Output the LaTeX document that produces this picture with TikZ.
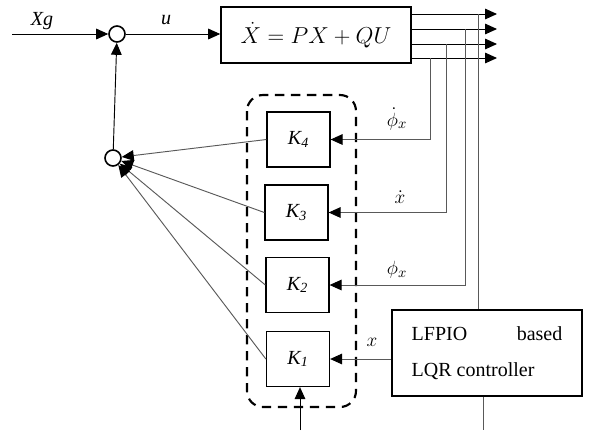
\documentclass[tikz,border=0pt]{standalone}
\usepackage{fontspec}
\setmainfont{Liberation Serif}
\usepackage{amsmath}
\usetikzlibrary{arrows.meta, positioning}

\begin{document}
\begin{tikzpicture}[
  x=0.75pt, y=-0.75pt,
  junction/.style={
    draw=black,
    circle,
    line width=1.2pt,
    inner sep=0pt,
    minimum size=12pt
  },
  plantbox/.style={
    draw=black,
    line width=1.2pt,
    minimum width=142.5pt,
    minimum height=42pt,
    font=\fontsize{17}{20}\selectfont
  },
  gainbox/.style={
    draw=black,
    line width=1.2pt,
    minimum width=47pt,
    minimum height=41pt,
    font=\fontsize{15}{16}\selectfont\itshape
  },
  ctrlbox/.style={
    draw=black,
    line width=1.2pt,
    minimum width=142.5pt,
    minimum height=64.5pt,
    align=left,
    font=\fontsize{15}{27}\selectfont
  },
  sig/.style={font=\fontsize{15}{16}\selectfont},
  arrow/.style={-{Triangle[length=9pt,width=8pt]}, line width=0.7pt, draw=black},
  fback/.style={-{Triangle[length=9pt,width=8pt,color=black]}, line width=0.7pt, draw=black!65},
  tap/.style={line width=0.7pt, draw=black!65}
]
  \useasboundingbox (0,0) rectangle (590,430);

  % forward path
  \node[junction] (sum1) at (117,34) {};
  \node[plantbox] (plant) at (316,35) {$\dot{X} = PX + QU$};
  \coordinate (xin) at (12,34);
  \draw[arrow] (xin) -- (sum1);
  \draw[arrow] (sum1) -- (plant.west |- sum1);
  \node[sig] (xglbl) at (42,21) {\textit{Xg}};
  \node[sig] (ulbl) at (166,20) {\textit{u}};

  % gains
  \node[gainbox] (K4) at (298.5,139.5) {K\textsubscript{4}};
  \node[gainbox] (K3) at (296.5,212.5) {K\textsubscript{3}};
  \node[gainbox] (K2) at (297.5,285) {K\textsubscript{2}};
  \node[gainbox] (K1) at (298,359) {K\textsubscript{1}};
  \draw[line width=1.6pt, dash pattern=on 7pt off 5pt, rounded corners=12pt]
    (247,95) rectangle (356,407);

  \node[ctrlbox] (ctrl) at (487,353)
    {\makebox[113pt][s]{LFPIO\hfill based}\\LQR controller};

  % state outputs
  \coordinate (o1) at (497,14);
  \coordinate (o2) at (497,29);
  \coordinate (o3) at (497,44);
  \coordinate (o4) at (497,58);
  \draw[arrow] (plant.east |- o1) -- (o1);
  \draw[arrow] (plant.east |- o2) -- (o2);
  \draw[arrow] (plant.east |- o3) -- (o3);
  \draw[arrow] (plant.east |- o4) -- (o4);

  % taps to gains
  \coordinate (t1) at (478,14);
  \coordinate (t2) at (465,29);
  \coordinate (t3) at (446,44);
  \coordinate (t4) at (430,58);
  \draw[tap] (t1) -- (t1 |- ctrl.north);
  \draw[fback] (t2) |- (K2.east);
  \draw[fback] (t3) |- (K3.east);
  \draw[fback] (t4) |- (K4.east);
  \draw[fback] (ctrl.west |- K1.east) -- (K1.east);
  \node[sig] (lbl4) at (397,119) {$\dot{\phi}_x$};
  \node[sig] (lbl3) at (400,197) {$\dot{x}$};
  \node[sig] (lbl2) at (397,270) {$\phi_x$};
  \node[sig] (lbl1) at (372,342) {$x$};

  % summing of gains
  \node[junction] (sum2) at (113,158) {};
  \draw[fback] (K4.west) -- (sum2);
  \draw[fback] (K3.west) -- (sum2);
  \draw[fback] (K2.west) -- (sum2);
  \draw[fback] (K1.west) -- (sum2);
  \draw[arrow] (sum2) -- (sum1);

  % bottom lines
  \coordinate (gin) at (300,430);
  \draw[arrow] (gin) -- (gin |- K1.south);
  \coordinate (cout) at (483,430);
  \draw[tap] (cout |- ctrl.south) -- (cout);
\end{tikzpicture}
\end{document}
